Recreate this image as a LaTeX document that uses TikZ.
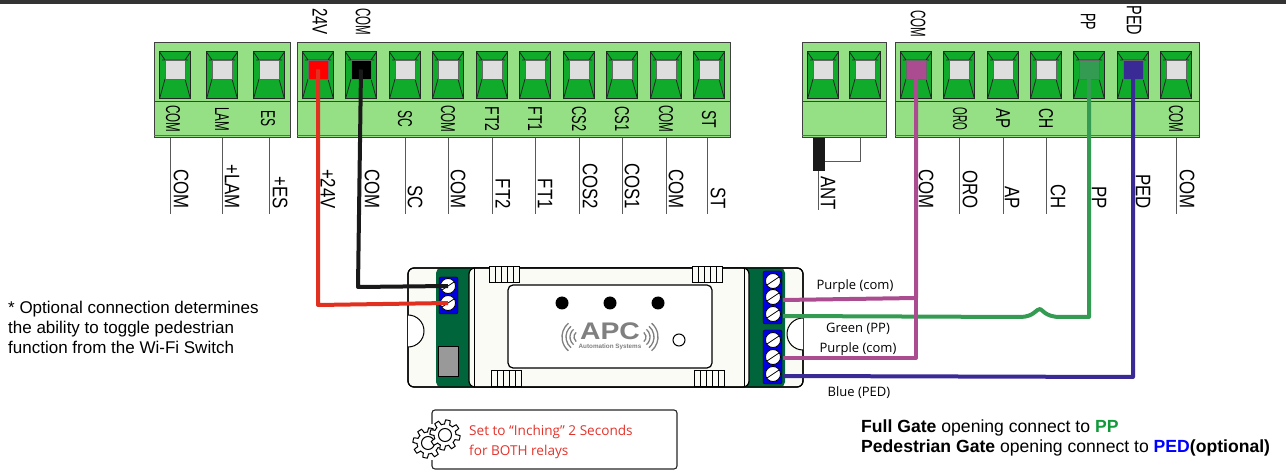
\documentclass[tikz,border=0pt]{standalone}
\usepackage{fontspec}
\usepackage{graphicx}
\setmainfont{Liberation Sans}
\newfontfamily\wirefont{Open Sans}
\definecolor{blockgreen}{HTML}{95E085}
\definecolor{termgreen}{HTML}{10AB2B}
\definecolor{boardgreen}{HTML}{00653A}
\definecolor{screwblue}{HTML}{0000E0}
\definecolor{wirered}{HTML}{E1301F}
\definecolor{wirepurple}{HTML}{AB4C90}
\definecolor{wiregreen}{HTML}{339B52}
\definecolor{wireblue}{HTML}{3A2A96}
\definecolor{shellwhite}{HTML}{FBFBF6}
\definecolor{notered}{HTML}{E2332B}
\definecolor{ppgreen}{HTML}{109A3A}
\tikzset{
  blockbox/.style={draw=black!75,line width=1pt,fill=blockgreen},
  termsq/.style={draw=black!60,line width=0.8pt,minimum width=20pt,minimum height=19pt,inner sep=0pt},
  outlabel/.style={rotate=-90,anchor=east,inner sep=0pt,font=\fontsize{21}{21}\selectfont},
  inlabel/.style={rotate=-90,inner sep=0pt,font=\fontsize{20}{20}\selectfont},
  toplabel/.style={rotate=-90,inner sep=0pt,font=\fontsize{21}{21}\selectfont},
  wirelabel/.style={inner sep=0pt,font=\wirefont\fontsize{13}{15}\selectfont},
  leadline/.style={draw=black!65,line width=1pt},
  wire/.style={line width=4pt,line join=round},
  screw/.style={circle,draw=black,line width=0.8pt,fill=white,minimum size=15pt,inner sep=0pt},
  vent/.style={draw=black,line width=1pt,fill=shellwhite}
}
% one screw terminal: x, name, colour of the square
\newcommand\terminal[3]{
  \fill[termgreen,draw=black!85,line width=1pt] (#1-15.5,52) rectangle (#1+15.5,99);
  \draw[black!85,line width=0.8pt] (#1-15.5,52) -- (#1-10,60) (#1+15.5,52) -- (#1+10,60)
    (#1-10,79) -- (#1-15.5,99) (#1+10,79) -- (#1+15.5,99) (#1-13,60) -- (#1+13,60);
  \node[termsq,fill=#3] (#2) at (#1,69.5) {};
}
\newcommand\vents[2]{
  \foreach \k in {0,...,4} {\draw[vent] (#1+\k*6,#2) rectangle ++(6,16);}
}
\newcommand\narrow[2]{\scalebox{#1}[1]{#2}}
\newcommand\gear[3]{
  \draw[black,line width=1pt,fill=white] plot[domain=0:360,samples=145]
    ({#1+#3*(1+0.16*max(-1,min(1,3*sin(8*\x))))*cos(\x)},{#2+#3*(1+0.16*max(-1,min(1,3*sin(8*\x))))*sin(\x)}) -- cycle;
  \draw[black,line width=1pt] (#1,#2) circle (#3*0.5);
}
\begin{document}
\begin{tikzpicture}[x=1pt,y=-1pt]
  \useasboundingbox (0,0) rectangle (1286,470);
  \fill[black!80] (0,0) rectangle (1286,4);

  % terminal blocks
  \draw[blockbox] (154,43) rectangle (290,138);
  \draw[blockbox] (297,43) rectangle (730,138);
  \draw[blockbox] (802,43) rectangle (886,138);
  \draw[blockbox] (895,43) rectangle (1199,138);
  \draw[black!75,line width=1pt] (154,102) -- (290,102) (297,102) -- (730,102)
    (802,102) -- (886,102) (895,102) -- (1199,102);
  \draw[black!60,line width=0.5pt] (154,135.5) -- (290,135.5) (297,135.5) -- (730,135.5)
    (802,135.5) -- (886,135.5) (895,135.5) -- (1199,135.5);
  \terminal{175}{tcoma}{black!13}
  \terminal{222}{tlam}{black!13}
  \terminal{269}{tes}{black!13}
  \terminal{318}{tpower}{red}
  \terminal{361}{tcomb}{black}
  \foreach \x in {405,448,492,535,579,622,666,709} {\terminal{\x}{tl\x}{black!13}}
  \terminal{823}{tanta}{black!13}
  \terminal{865}{tantb}{black!13}
  \terminal{916}{tcomc}{wirepurple}
  \foreach \x in {959,1003,1046,1176} {\terminal{\x}{tr\x}{black!13}}
  \terminal{1089}{tpp}{wiregreen}
  \terminal{1133}{tped}{wireblue}

  % labels in the blocks
  \foreach \x/\t/\s in {173/COM/0.58,222/LAM/0.58,268/ES/0.6,405/SC/0.6,448/COM/0.58,492/FT2/0.7,535/FT1/0.7,579/CS2/0.64,622/CS1/0.64,666/COM/0.58,709/ST/0.7,960/ORO/0.5,1003/AP/0.75,1046/CH/0.7,1176/COM/0.58}
    {\node[inlabel] (in\x) at (\x,119) {\narrow{\s}{\t}};}
  \node[toplabel] (top24) at (320,21.5) {\narrow{0.72}{24V}};
  \node[toplabel] (topcom) at (363,21.5) {\narrow{0.55}{COM}};
  \node[toplabel] (topcomb) at (918,23.5) {\narrow{0.55}{COM}};
  \node[toplabel] (toppp) at (1088,21.5) {\narrow{0.6}{PP}};
  \node[toplabel] (topped) at (1134,20.5) {\narrow{0.69}{PED}};

  % lead lines and their labels
  \foreach \x/\y/\t in {170/181/COM,222/232/+LAM,269/280/+ES,405/415/SC,448/458/COM,492/503/FT2,535/545/FT1,579/590/COS2,622/632/COS1,666/676/COM,707/718/ST,959/970/ORO,1003/1012/AP,1046/1058/CH,1176/1187/COM} {
    \coordinate (lt\x) at (\x,138);
    \coordinate (lb\x) at (\x,214);
    \draw[leadline] (lt\x) -- (lb\x);
    \node[outlabel] (out\x) at (\y,209) {\narrow{0.8}{\t}};
  }
  \foreach \y/\t in {328/+24V,372/COM,926/COM,1099/PP,1143/PED}
    {\node[outlabel] (lab\y) at (\y,209) {\narrow{0.8}{\t}};}

  % antenna
  \node[outlabel] (ant) at (828,210) {\narrow{0.8}{ANT}};
  \coordinate (antup) at (860,138);
  \coordinate (antdown) at (818,210);
  \coordinate (antjoin) at (825,162);
  \draw[leadline] (antup) |- (antjoin);
  \draw[leadline] (818,171) -- (antdown);
  \fill[black!90] (813,138) rectangle (825,171);

  % wi-fi switch
  \draw[black,line width=1.2pt,fill=shellwhite,rounded corners=6pt] (408,268) rectangle (803,387);
  \fill[boardgreen,rounded corners=5pt] (436,268) rectangle (476,387);
  \fill[boardgreen,rounded corners=5pt] (742,268) rectangle (785,387);
  \draw[black,line width=1.2pt,fill=shellwhite,rounded corners=6pt] (469,268) rectangle (749,387);
  \draw[black,line width=1pt] (474,268) -- (474,387) (744,268) -- (744,387);
  \draw[black,line width=1.2pt,rounded corners=6pt] (408,268) rectangle (803,387);
  \draw[black,line width=1pt,fill=white] (803,318) arc (-90:-270:16);
  \draw[black,line width=1pt,fill=white] (408,315) arc (-90:90:16);
  \vents{489}{267}
  \vents{692}{267}
  \vents{491}{371}
  \vents{694}{371}
  \draw[black,line width=1.2pt,fill=white,rounded corners=5pt] (508,285) rectangle (712,368);
  \fill (562,303) circle (6.5);
  \fill (610,303) circle (6.5);
  \fill (658,303) circle (6.5);
  \draw[black,line width=1pt] (679,340) circle (6);
  \fill[black!40,draw=black,line width=0.8pt] (438,346) rectangle (458,376);

  % logo
  \node[inner sep=0pt,text=black!50,font=\bfseries\fontsize{24}{24}\selectfont] (apc) at (610,331.5) {\narrow{1.18}{APC}};
  \node[inner sep=0pt,text=black!50,font=\bfseries\fontsize{6.3}{6.3}\selectfont] (apcsub) at (610,347) {Automation Systems};
  \foreach \r in {6,10,14,18} {
    \draw[black!50,line width=1.3pt] (580,337) ++(-130:\r) arc (-130:-230:\r);
    \draw[black!50,line width=1.3pt] (640,337) ++(50:\r) arc (50:-50:\r);
  }

  % screw terminals
  \draw[draw=black,fill=screwblue,rounded corners=2pt] (439,277) rectangle (458,314);
  \draw[draw=black,fill=screwblue,rounded corners=2pt] (763,271) rectangle (782,324);
  \draw[draw=black,fill=screwblue,rounded corners=2pt] (763,330) rectangle (782,384);
  \foreach \n/\x/\y in {sa/448/286,sb/448/303,sc/773/281,sd/773/297,se/773/314,sf/773/340,sg/773/357,sh/773/374} {
    \node[screw] (\n) at (\x,\y) {};
    \draw[black,line width=0.8pt] ([xshift=-6,yshift=-4]\n.center) -- ([xshift=6,yshift=4]\n.center);
  }

  % wires
  \coordinate (hopa) at (1060,317);
  \coordinate (hopb) at (1020,317);
  \draw[wire,wirered] (tpower.center) -- (318,305) -- (sb.center);
  \draw[wire,black!90] (tcomb.center) -- (358,287) -- (sa.center);
  \draw[wire,wiregreen] (tpp.center) -- (1089,317) -- (hopa) .. controls (1045,317) and (1042,309) .. (1040,309) .. controls (1036,309) and (1034,317) .. (hopb) -- (783,316);
  \draw[wire,wirepurple] (tcomc.center) -- (916,298) -- (783,300);
  \draw[wire,wirepurple] (916,298) -- (916,358) -- (783,358);
  \draw[wire,wireblue] (tped.center) -- (1133,377) -- (783,376);

  \node[wirelabel] (lpurplea) at (855,286) {Purple (com)};
  \node[wirelabel] (lgreen) at (858,329) {Green (PP)};
  \node[wirelabel] (lpurpleb) at (858,349) {Purple (com)};
  \node[wirelabel] (lblue) at (859,393) {Blue (PED)};

  % notes
  \node[anchor=west,align=left,inner sep=0pt,font=\fontsize{17}{20}\selectfont] (note) at (8,327)
    {* Optional connection determines\\the ability to toggle pedestrian\\function from the Wi-Fi Switch};
  \node[anchor=north west,align=left,inner sep=0pt,font=\fontsize{17.6}{20}\selectfont] (gates) at (861,420)
    {\textbf{Full Gate} opening connect to \textbf{\textcolor{ppgreen}{PP}}\\
     \textbf{Pedestrian Gate} opening connect to \textbf{\textcolor{blue}{PED}}\textbf{(optional)}};
  \draw[black!85,line width=1.1pt,rounded corners=3pt] (432,424) -- (432,410) -- (677,410) -- (677,469) -- (432,469) -- (432,460);
  \gear{428}{443}{13}
  \gear{445}{435}{13}
  \node[anchor=north west,align=left,inner sep=0pt,text=notered,font=\wirefont\fontsize{13.6}{20}\selectfont] (inching) at (469,425)
    {Set to “Inching” 2 Seconds\\for BOTH relays};
\end{tikzpicture}
\end{document}
